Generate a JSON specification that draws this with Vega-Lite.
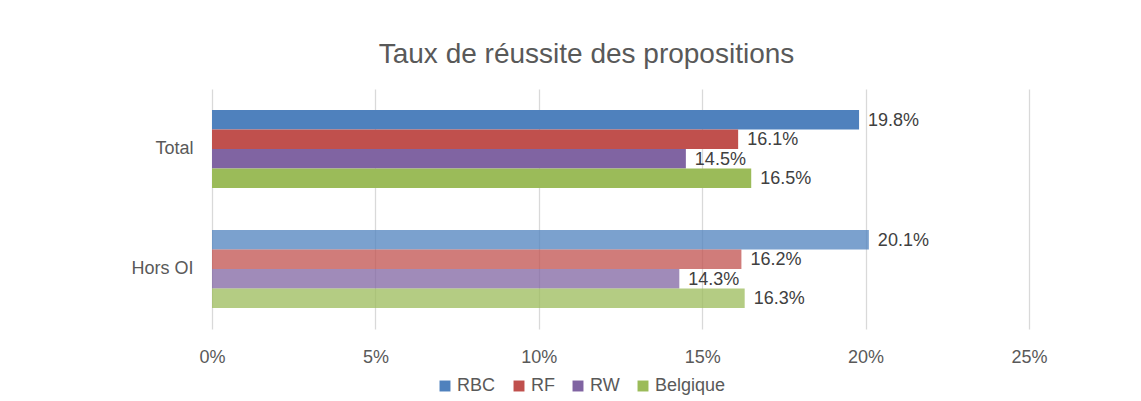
{
  "$schema": "https://vega.github.io/schema/vega-lite/v6.json",
  "width": 817,
  "height": 240,
  "autosize": {"type": "none"},
  "padding": {"left": 212, "top": 89, "right": 112, "bottom": 72},
  "background": "white",
  "config": {"view": {"stroke": null}},
  "title": {
    "text": "Taux de réussite des propositions",
    "fontSize": 28,
    "font": "Liberation Sans, Arial, sans-serif",
    "fontWeight": "normal",
    "color": "#595959",
    "anchor": "middle",
    "dx": -34,
    "offset": 20
  },
  "data": {
    "values": [
      {"cat": "Total", "serie": "RBC", "val": 0.198},
      {"cat": "Total", "serie": "RF", "val": 0.161},
      {"cat": "Total", "serie": "RW", "val": 0.145},
      {"cat": "Total", "serie": "Belgique", "val": 0.165},
      {"cat": "Hors OI", "serie": "RBC", "val": 0.201},
      {"cat": "Hors OI", "serie": "RF", "val": 0.162},
      {"cat": "Hors OI", "serie": "RW", "val": 0.143},
      {"cat": "Hors OI", "serie": "Belgique", "val": 0.163}
    ]
  },
  "encoding": {
    "y": {
      "field": "cat",
      "type": "nominal",
      "sort": ["Total", "Hors OI"],
      "scale": {"paddingInner": 0.35, "paddingOuter": 0.175},
      "axis": {
        "title": null,
        "ticks": false,
        "domain": false,
        "labelFontSize": 18,
        "labelFont": "Liberation Sans, Arial, sans-serif",
        "labelColor": "#595959",
        "labelPadding": 19
      }
    },
    "yOffset": {
      "field": "serie",
      "type": "nominal",
      "sort": ["RBC", "RF", "RW", "Belgique"],
      "scale": {"paddingInner": 0, "paddingOuter": 0}
    },
    "x": {
      "field": "val",
      "type": "quantitative",
      "scale": {"domain": [0, 0.25], "nice": false},
      "axis": {
        "title": null,
        "format": ".0%",
        "values": [0, 0.05, 0.1, 0.15, 0.2, 0.25],
        "grid": true,
        "gridColor": "#D9D9D9",
        "gridWidth": 1.3,
        "domain": false,
        "ticks": false,
        "labelFlush": false,
        "labelFontSize": 18,
        "labelFont": "Liberation Sans, Arial, sans-serif",
        "labelColor": "#595959",
        "labelPadding": 19
      }
    }
  },
  "layer": [
    {
      "mark": {"type": "bar"},
      "encoding": {
        "color": {
          "field": "serie",
          "type": "nominal",
          "sort": ["RBC", "RF", "RW", "Belgique"],
          "scale": {
            "domain": ["RBC", "RF", "RW", "Belgique"],
            "range": ["#4F81BD", "#C0504D", "#8064A2", "#9BBB59"]
          },
          "legend": {
            "title": null,
            "orient": "none",
            "direction": "horizontal",
            "legendX": 224,
            "legendY": 288,
            "symbolType": "square",
            "symbolSize": 120,
            "symbolStrokeWidth": 0,
            "symbolOpacity": 1,
            "labelFontSize": 18,
            "labelFont": "Liberation Sans, Arial, sans-serif",
            "labelColor": "#595959",
            "labelOffset": 3,
            "columnPadding": 14
          }
        },
        "opacity": {
          "field": "cat",
          "type": "nominal",
          "scale": {"domain": ["Total", "Hors OI"], "range": [1, 0.75]},
          "legend": null
        }
      }
    },
    {
      "mark": {
        "type": "text",
        "align": "left",
        "baseline": "middle",
        "dx": 9,
        "dy": 1,
        "fontSize": 18,
        "font": "Liberation Sans, Arial, sans-serif",
        "color": "#404040"
      },
      "encoding": {
        "text": {"field": "val", "type": "quantitative", "format": ".1%"}
      }
    }
  ]
}
